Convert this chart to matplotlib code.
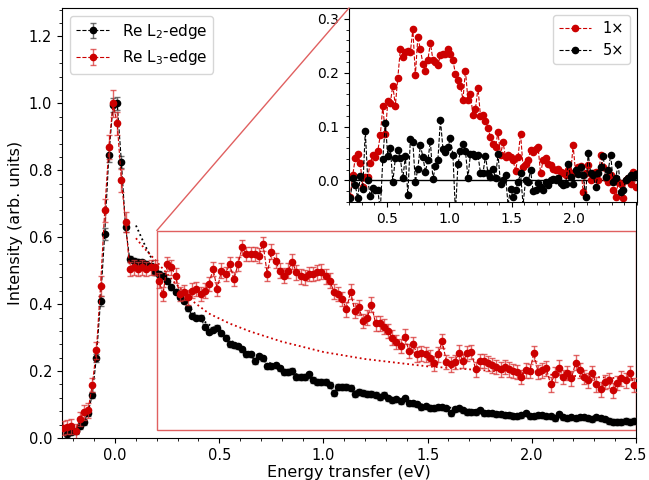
import matplotlib
matplotlib.use('Agg')
import matplotlib.pyplot as plt
import matplotlib.ticker as mticker
from matplotlib.patches import Rectangle, ConnectionPatch
import numpy as np

# ---- data ----
# Re L3-edge: energy grid starts at -0.25 eV, 0.02 eV steps
l3_start, l3_step = -0.25, 0.02
l3_y = [
    0.030, 0.033, 0.035, 0.020, 0.057, 0.077, 0.083, 0.158,
    0.262, 0.455, 0.680, 0.870, 1.000, 0.940, 0.770, 0.645,
    0.505, 0.510, 0.505, 0.510, 0.505, 0.510, 0.510,
    0.470, 0.430, 0.520, 0.510, 0.485, 0.430, 0.435, 0.420, 0.440, 0.445,
    0.430, 0.440, 0.460, 0.505, 0.445,
    0.500, 0.490, 0.520, 0.475, 0.520, 0.570, 0.550, 0.550, 0.550, 0.545,
    0.580, 0.490, 0.557, 0.530, 0.500, 0.485, 0.500, 0.527, 0.495, 0.483,
    0.480, 0.490, 0.490, 0.495, 0.497,
    0.483, 0.470, 0.437, 0.430, 0.415, 0.385, 0.437, 0.380, 0.390, 0.350,
    0.360, 0.398, 0.343, 0.343, 0.333, 0.320, 0.300, 0.287, 0.275, 0.303,
    0.260, 0.280, 0.250, 0.253, 0.250,
    0.240, 0.223, 0.250, 0.290, 0.227, 0.220, 0.227, 0.255, 0.230, 0.253,
    0.257, 0.205, 0.230, 0.230, 0.223, 0.217, 0.212, 0.205, 0.212, 0.205,
    0.200, 0.197, 0.182, 0.202, 0.200,
    0.253, 0.197, 0.202, 0.208, 0.160, 0.190, 0.210, 0.182, 0.194, 0.178,
    0.225, 0.202, 0.182, 0.172, 0.194, 0.160, 0.145, 0.167, 0.172, 0.143,
    0.164, 0.178, 0.172, 0.194, 0.158,
]
l3_err_tail = 0.022
l3_err_peak = [0.025, 0.03, 0.035, 0.035, 0.04, 0.035, 0.035, 0.03]  # -0.09 .. 0.05

# Re L2-edge: starts at -0.23 eV, 0.02 eV steps
l2_start, l2_step = -0.23, 0.02
l2_y = [
    0.012, 0.018, 0.020, 0.035, 0.048, 0.075, 0.128,
    0.240, 0.410, 0.610, 0.845, 0.995, 1.000, 0.825, 0.630,
    0.535, 0.530, 0.527, 0.525, 0.520, 0.515, 0.495, 0.490, 0.485, 0.470,
    0.450, 0.437, 0.422, 0.410, 0.387, 0.366, 0.360, 0.360, 0.333, 0.318,
    0.324, 0.330,
    0.313, 0.300, 0.280, 0.277, 0.274, 0.265, 0.250, 0.250, 0.230, 0.244,
    0.238, 0.214, 0.214, 0.217, 0.208, 0.197, 0.197, 0.200, 0.182, 0.182,
    0.182, 0.190, 0.173, 0.167, 0.167,
    0.167, 0.158, 0.134, 0.152, 0.152, 0.152, 0.149, 0.131, 0.137, 0.134,
    0.131, 0.131, 0.128, 0.122, 0.128, 0.119, 0.113, 0.116, 0.110, 0.119,
    0.104, 0.104, 0.101, 0.092, 0.095,
    0.090, 0.089, 0.092, 0.092, 0.089, 0.074, 0.086, 0.089, 0.083, 0.077,
    0.077, 0.077, 0.083, 0.074, 0.074, 0.074, 0.071, 0.071, 0.068, 0.068,
    0.065, 0.065, 0.068, 0.074, 0.065,
    0.065, 0.068, 0.068, 0.065, 0.065, 0.059, 0.071, 0.062, 0.059, 0.062,
    0.059, 0.062, 0.062, 0.059, 0.056, 0.062, 0.059, 0.056, 0.051, 0.048,
    0.048, 0.048, 0.051, 0.048, 0.051,
]
l2_err_tail = 0.008
l2_err_peak = [0.012, 0.015, 0.018, 0.02, 0.02, 0.02, 0.018, 0.015]  # -0.09 .. 0.05

# background fits (dotted)
fit3_x = [0.10, 0.14, 0.20, 0.28, 0.37, 0.45, 0.55, 0.65, 0.80, 1.00, 1.20, 1.50, 2.00, 2.50]
fit3_y = [0.597, 0.567, 0.527, 0.468, 0.410, 0.372, 0.342, 0.318, 0.288, 0.257, 0.236, 0.214, 0.192, 0.176]
fit2_x = [0.10, 0.14, 0.18, 0.22, 0.30, 0.40, 0.50, 0.60, 0.80, 1.00, 1.20, 1.50, 2.00, 2.50]
fit2_y = [0.635, 0.580, 0.530, 0.490, 0.430, 0.360, 0.318, 0.272, 0.205, 0.165, 0.133, 0.097, 0.068, 0.050]

# inset: difference spectra, 0.21 .. 2.49 eV in 0.02 eV steps
ins_start, ins_step = 0.21, 0.02
diff_1x = [
    -0.030, 0.010, 0.041, 0.049, 0.032, -0.012, 0.007, 0.007, 0.032, 0.047,
    0.044, 0.055, 0.084, 0.138, 0.086,
    0.147, 0.144, 0.176, 0.139, 0.191, 0.243, 0.229, 0.238, 0.241, 0.238,
    0.281, 0.195, 0.267, 0.243, 0.217, 0.204, 0.224, 0.255, 0.224, 0.220,
    0.215, 0.232, 0.235, 0.235, 0.244,
    0.235, 0.223, 0.198, 0.187, 0.176, 0.150, 0.204, 0.149, 0.160, 0.121,
    0.133, 0.172, 0.119, 0.121, 0.110, 0.098, 0.080, 0.068, 0.062, 0.090,
    0.047, 0.071, 0.044, 0.047, 0.044,
    0.038, 0.018, 0.044, 0.087, 0.025, 0.031, 0.038, 0.056, 0.053, 0.059,
    0.062, 0.013, 0.038, 0.041, 0.031, 0.028, 0.022, 0.019, 0.022, 0.016,
    0.013, 0.010, 0.019, 0.013, 0.065,
    0.013, 0.025, 0.027, -0.021, 0.013, 0.028, 0.000, 0.013, 0.016, 0.000,
    0.047, 0.025, 0.004, -0.003, 0.010, -0.018, -0.030, -0.003, -0.006, -0.033,
    0.000, 0.004, -0.006, 0.016, -0.012,
]
diff_5x = [
    -0.033, 0.004, -0.009, -0.033, 0.008, -0.015, 0.092, 0.000, -0.029, -0.014,
    -0.017, -0.018, -0.055, 0.039, 0.106,
    0.045, 0.060, -0.003, 0.041, 0.057, 0.041, 0.004, 0.045, -0.027, 0.076,
    0.071, -0.003, 0.022, 0.065, 0.044, 0.016, 0.038, 0.073, 0.002, 0.027,
    0.038, 0.113, 0.059, 0.053, 0.062,
    0.078, 0.047, -0.060, 0.030, 0.055, 0.067, 0.055, 0.004, 0.050, 0.049,
    0.045, 0.047, 0.014, 0.014, 0.045, 0.013, 0.007, 0.022, 0.004, 0.049,
    -0.006, 0.000, 0.010, -0.045, -0.015,
    -0.030, -0.018, -0.003, 0.013, -0.045, 0.000, -0.003, 0.019, -0.019, -0.018,
    -0.004, -0.012, -0.018, -0.003, -0.009, 0.000, 0.002, 0.000, 0.004, -0.004,
    -0.009, -0.006, 0.030, 0.007, -0.006,
    0.019, 0.012, 0.025, 0.010, -0.030, 0.051, 0.014, 0.010, -0.012, 0.013,
    0.025, 0.045, 0.007, 0.019, 0.047, -0.003, 0.004, 0.031, -0.021, -0.017,
    0.000, 0.004, 0.010, 0.007, 0.012,
]

# zoom box drawn on the main panel
box_x = (0.2, 2.5)
box_y = (0.025, 0.62)

RED = '#cc0000'

l3_x = l3_start + l3_step * np.arange(len(l3_y))
l2_x = l2_start + l2_step * np.arange(len(l2_y))
ins_x = ins_start + ins_step * np.arange(len(diff_1x))

l3_err = np.full(len(l3_y), l3_err_tail)
l3_err[8:16] = l3_err_peak
l2_err = np.full(len(l2_y), l2_err_tail)
l2_err[7:15] = l2_err_peak

W, H = 649, 480
fig = plt.figure(figsize=(W / 100, H / 100), dpi=100)
ax = fig.add_axes([62 / W, 1 - 438 / H, (636 - 62) / W, (438 - 8) / H])

ax.plot(fit2_x, fit2_y, ':', color='black', lw=1.3, zorder=1)
ax.plot(fit3_x, fit3_y, ':', color=RED, lw=1.3, zorder=1)

ax.errorbar(l2_x, l2_y, yerr=l2_err, fmt='o--', color='black', ms=4.5, lw=0.8,
            elinewidth=1, capsize=2, ecolor=(0.3, 0.3, 0.3, 0.8), label='Re L$_2$-edge', zorder=3)
ax.errorbar(l3_x, l3_y, yerr=l3_err, fmt='o--', color=RED, ms=4.5, lw=0.8,
            elinewidth=1, capsize=2, ecolor=(0.85, 0.2, 0.2, 0.75), label='Re L$_3$-edge', zorder=4)

ax.add_patch(Rectangle((box_x[0], box_y[0]), box_x[1] - box_x[0], box_y[1] - box_y[0],
                       fill=False, ec='#e06060', lw=1, zorder=2))

ax.set_xlim(-0.255, 2.5)
ax.set_ylim(0, 1.285)
ax.xaxis.set_major_locator(mticker.MultipleLocator(0.5))
ax.xaxis.set_minor_locator(mticker.MultipleLocator(0.1))
ax.yaxis.set_major_locator(mticker.MultipleLocator(0.2))
ax.yaxis.set_minor_locator(mticker.MultipleLocator(0.04))
ax.tick_params(labelsize=10.5)
ax.set_xlabel('Energy transfer (eV)', fontsize=11.5, labelpad=2)
ax.set_ylabel('Intensity (arb. units)', fontsize=11.5, labelpad=4)
ax.legend(loc='upper left', fontsize=11, handlelength=2.2)

# ---- inset ----
axins = fig.add_axes([349 / W, 1 - 202 / H, (637 - 349) / W, (202 - 8) / H])
axins.axhline(0, color='black', lw=1, zorder=1)
axins.plot(ins_x, diff_1x, 'o--', color=RED, ms=4.5, lw=0.8, label='1×', zorder=2)
axins.plot(ins_x, diff_5x, 'o--', color='black', ms=4.5, lw=0.8, label='5×', zorder=3)
axins.set_xlim(0.2, 2.5)
axins.set_ylim(-0.04, 0.32)
axins.xaxis.set_major_locator(mticker.FixedLocator([0.5, 1.0, 1.5, 2.0]))
axins.xaxis.set_minor_locator(mticker.MultipleLocator(0.1))
axins.yaxis.set_major_locator(mticker.MultipleLocator(0.1))
axins.yaxis.set_minor_locator(mticker.MultipleLocator(0.02))
axins.tick_params(labelsize=10)
axins.legend(loc='upper right', fontsize=10.5, handlelength=2.2)

con = ConnectionPatch(xyA=(box_x[0], box_y[1]), coordsA=ax.transData,
                      xyB=(0, 1), coordsB=axins.transAxes, color='#e06060', lw=1)
fig.add_artist(con)

fig.savefig('out.png', dpi=100)
